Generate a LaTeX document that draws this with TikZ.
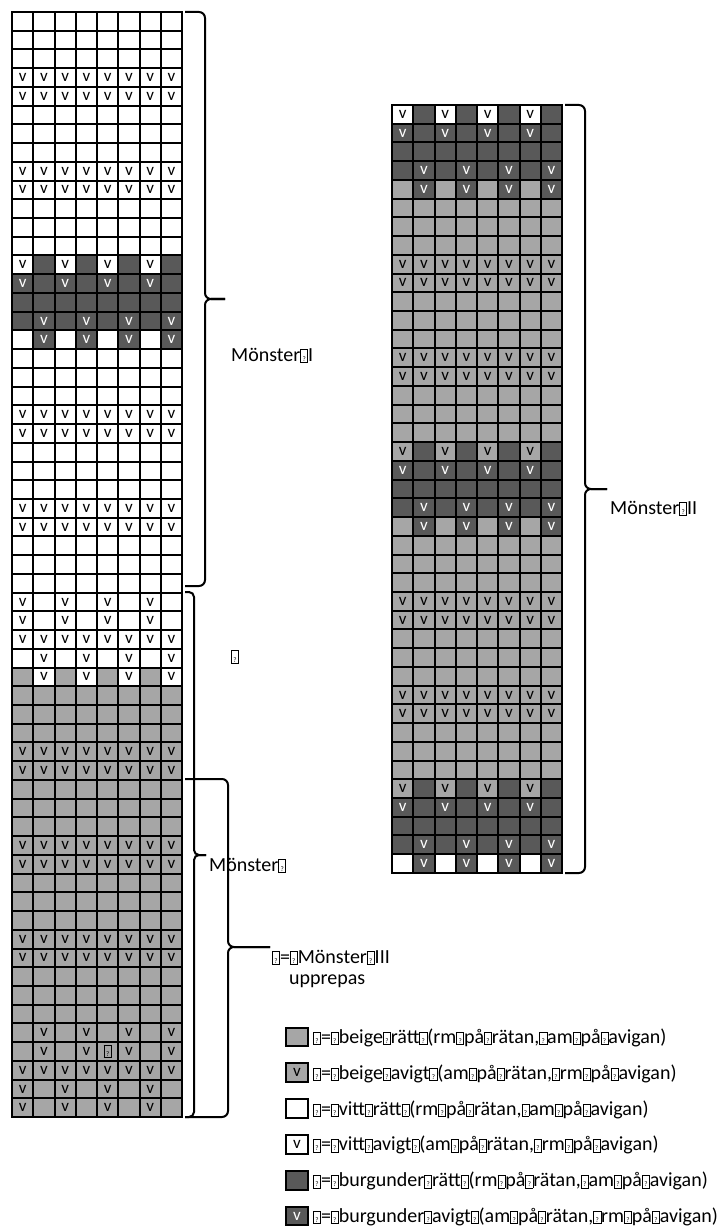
\documentclass[tikz,border=0pt]{standalone}
\usepackage{fontspec}
\setmainfont{Carlito}
\definecolor{knitbeige}{HTML}{A6A6A6}
\definecolor{knitburg}{HTML}{595959}
\newcommand{\cellfont}{\fontsize{17}{18}\selectfont}
\newcommand{\labelfont}{\fontsize{20}{22}\selectfont}
\newcommand{\tofu}{{\setlength{\fboxsep}{0.4pt}\setlength{\fboxrule}{0.7pt}%
	\fbox{\makebox[5.6pt]{\rule[-0.5pt]{0pt}{11pt}\fontsize{7}{7}\selectfont ?}}}}
% what stands in a stitch
\newcommand{\stitchW}{}
\newcommand{\stitchw}{v}
\newcommand{\stitchG}{}
\newcommand{\stitchg}{v}
\newcommand{\stitchD}{}
\newcommand{\stitchd}{v}
\newcommand{\stitcht}{\tofu}
% one row = 8 stitches
\newcommand{\pattA}{W,W,W,W,W,W,W,W}
\newcommand{\pattB}{w,w,w,w,w,w,w,w}
\newcommand{\pattC}{w,D,w,D,w,D,w,D}
\newcommand{\pattE}{d,D,d,D,d,D,d,D}
\newcommand{\pattF}{D,D,D,D,D,D,D,D}
\newcommand{\pattH}{D,d,D,d,D,d,D,d}
\newcommand{\pattI}{W,d,W,d,W,d,W,d}
\newcommand{\pattJ}{w,W,w,W,w,W,w,W}
\newcommand{\pattK}{W,w,W,w,W,w,W,w}
\newcommand{\pattL}{G,w,G,w,G,w,G,w}
\newcommand{\pattM}{G,G,G,G,G,G,G,G}
\newcommand{\pattN}{g,g,g,g,g,g,g,g}
\newcommand{\pattO}{G,g,G,g,G,g,G,g}
\newcommand{\pattP}{G,g,G,g,t,g,G,g}
\newcommand{\pattQ}{g,G,g,G,g,G,g,G}
\newcommand{\pattR}{G,d,G,d,G,d,G,d}
\newcommand{\pattS}{g,D,g,D,g,D,g,D}
\tikzset{cell/.style={draw=black,line width=2pt,minimum width=21.25pt,
		minimum height=18.73pt,inner sep=0pt,font=\cellfont},
	cW/.style={cell,fill=white},
	cw/.style={cell,fill=white,text=black},
	cG/.style={cell,fill=knitbeige},
	cg/.style={cell,fill=knitbeige,text=black},
	ct/.style={cell,fill=knitbeige},
	cD/.style={cell,fill=knitburg},
	cd/.style={cell,fill=knitburg,text=white},
	curly/.style={line width=2pt,rounded corners=6pt},
	caption/.style={inner sep=0pt,anchor=base west,font=\labelfont}}
\begin{document}
\begin{tikzpicture}[x=1pt,y=-1pt]
	\useasboundingbox (0,0) rectangle (717,1230);
	
	% left chart
	\foreach \p [count=\ri] in {A,A,A,B,B,A,A,A,B,B,A,A,A,C,E,F,H,I,A,A,A,B,B,A,A,A,B,B,A,A,A,
		J,J,B,K,L,M,M,M,N,N,M,M,M,N,N,M,M,M,N,N,M,M,M,O,P,N,Q,Q}{
		\edef\cells{\csname patt\p\endcsname}
		\foreach \st [count=\ci] in \cells
			\node [c\st] (L-\ri-\ci) at ({12+(\ci-0.5)*21.25},{12+(\ri-0.5)*18.73})
				{\csname stitch\st\endcsname};
	}
	
	% right chart
	\foreach \p [count=\ri] in {C,E,F,H,R,M,M,M,N,N,M,M,M,N,N,M,M,M,S,E,F,H,R,M,M,M,N,N,
		M,M,M,N,N,M,M,M,S,E,F,H,I}{
		\edef\cells{\csname patt\p\endcsname}
		\foreach \st [count=\ci] in \cells
			\node [c\st] (R-\ri-\ci) at ({392+(\ci-0.5)*21.25},{105+(\ri-0.5)*18.73})
				{\csname stitch\st\endcsname};
	}
	
	% braces
	\coordinate (b1t) at (185,12);
	\coordinate (b1b) at (185,586);
	\coordinate (b1m) at (205,299);
	\coordinate (b1p) at (225,299);
	\coordinate (b2t) at (185,592);
	\coordinate (b2b) at (185,1117);
	\coordinate (b2m) at (194,855);
	\coordinate (b2p) at (206,855);
	\coordinate (b3t) at (185,779);
	\coordinate (b3b) at (185,1117);
	\coordinate (b3m) at (228,947);
	\coordinate (b3p) at (270,947);
	\coordinate (b4t) at (565,105);
	\coordinate (b4b) at (565,873);
	\coordinate (b4m) at (585,489);
	\coordinate (b4p) at (607,489);
	
	\draw [curly] (b1t) -| (b1m) -- (b1p);
	\draw [curly] (b1b) -| (b1m) -- (b1p);
	\draw [curly,rounded corners=5pt] (b2t) -| (b2m) -- (b2p);
	\draw [curly,rounded corners=5pt] (b2b) -| (b2m) -- (b2p);
	\draw [curly] (b3t) -| (b3m) -- (b3p);
	\draw [curly] (b3b) -| (b3m) -- (b3p);
	\draw [curly] (b4t) -| (b4m) -- (b4p);
	\draw [curly] (b4b) -| (b4m) -- (b4p);
	
	\node [caption] (capI) at (231,361) {Mönster\tofu I};
	\node [caption] (capII) at (610,514) {Mönster\tofu II};
	\node [caption] (capmid) at (209,871) {Mönster\tofu};
	\node [caption] (caprep) at (272,963) {\tofu=\tofu Mönster\tofu III};
	\node [caption] (capupp) at (289,984) {upprepas};
	\node [caption] (caplone) at (231,662) {\tofu};
	
	% key
	\foreach \st/\txt [count=\i] in {
		G/{\tofu=\tofu beige\tofu rätt\tofu(rm\tofu på\tofu rätan,\tofu am\tofu på\tofu avigan)},
		g/{\tofu=\tofu beige\tofu avigt\tofu(am\tofu på\tofu rätan,\tofu rm\tofu på\tofu avigan)},
		W/{\tofu=\tofu vitt\tofu rätt\tofu(rm\tofu på\tofu rätan,\tofu am\tofu på\tofu avigan)},
		w/{\tofu=\tofu vitt\tofu avigt\tofu(am\tofu på\tofu rätan,\tofu rm\tofu på\tofu avigan)},
		D/{\tofu=\tofu burgunder\tofu rätt\tofu(rm\tofu på\tofu rätan,\tofu am\tofu på\tofu avigan)},
		d/{\tofu=\tofu burgunder\tofu avigt\tofu(am\tofu på\tofu rätan,\tofu rm\tofu på\tofu avigan)}}{
		\node [c\st] (key-\i) at (297,{1037+(\i-1)*35.8}) {\csname stitch\st\endcsname};
		\node [caption] (keytext-\i) at (313,{1043.5+(\i-1)*35.8}) {\txt};
	}
	
\end{tikzpicture}
\end{document}
